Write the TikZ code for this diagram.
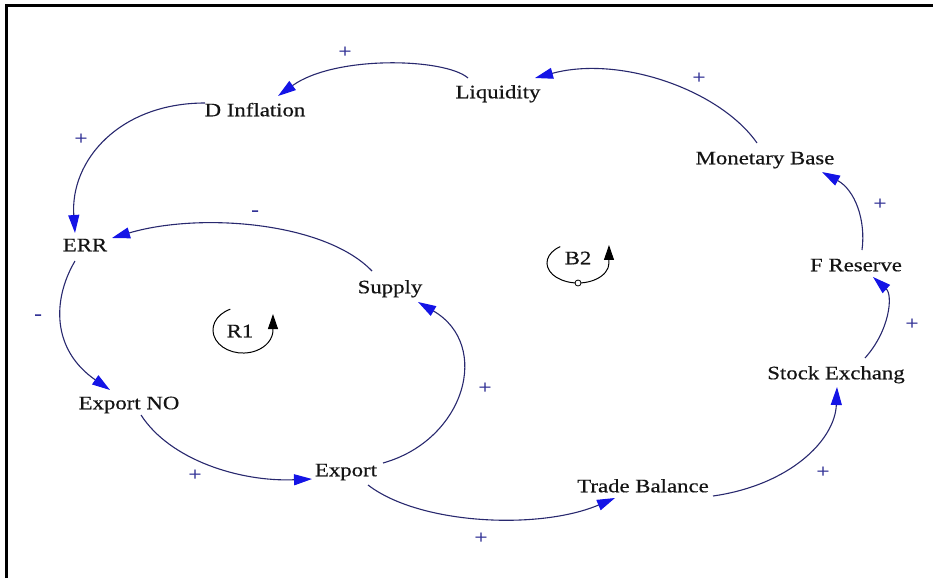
\documentclass[tikz,border=0pt]{standalone}
\usepackage{fontspec}
\setmainfont{Liberation Serif}[FakeStretch=1.2,FakeBold=0.5]
\usetikzlibrary{arrows.meta}
\definecolor{linkc}{RGB}{40,40,110}
\definecolor{arrc}{RGB}{20,20,230}
\definecolor{polc}{RGB}{50,50,150}
\definecolor{txt}{RGB}{20,20,20}
\tikzset{
  var/.style={inner sep=0pt, text height=12.5pt, text depth=0pt, font=\fontsize{19}{19}\selectfont, text=txt},
  link/.style={draw=linkc, line width=1.1pt, -{Triangle[length=18pt,width=11pt,color=arrc]}},
  pol/.style={inner sep=0pt, font=\fontsize{19}{19}\selectfont, text=polc},
  loopar/.style={draw=black, line width=1pt, -{Triangle[length=15pt,width=10pt]}}
}
\begin{document}
\begin{tikzpicture}[x=1pt,y=-1pt]
\useasboundingbox (0,0) rectangle (933,578);
\draw[line width=3pt] (6,578) -- (6,6) -- (933,6);
% variables
\node[var] (liq) at (498,92) {Liquidity};
\node[var] (dinf) at (255,110) {D Inflation};
\node[var] (mb) at (765,158) {Monetary Base};
\node[var] (fres) at (856,265) {F Reserve};
\node[var] (sex) at (836,373) {Stock Exchang};
\node[var] (tb) at (643,486) {Trade Balance};
\node[var] (exp) at (346,470) {Export};
\node[var] (expno) at (129,403) {Export NO};
\node[var] (err) at (85,245) {ERR};
\node[var] (sup) at (390,287) {Supply};
% links
\draw[link] ([shift={(-30,-14)}]liq.center) .. controls +(-23,-20) and +(57,-41) .. ([shift={(23,-14)}]dinf.center);
\draw[link] ([shift={(-8,-15)}]mb.center) .. controls +(-37,-53) and +(85,-23) .. ([shift={(37,-14)}]liq.center);
\draw[link] ([shift={(-50,-7)}]dinf.center) .. controls +(-85,0) and +(-5,-73) .. ([shift={(-10,-12)}]err.center);
\draw[link] ([shift={(-18,-16)}]sup.center) .. controls +(-47,-49) and +(88,-26) .. ([shift={(27,-7)}]err.center);
\draw[link] ([shift={(-10,16)}]err.center) .. controls +(-23,39) and +(-58,-40) .. ([shift={(-19,-13)}]expno.center);
\draw[link] ([shift={(12,12)}]expno.center) .. controls +(29,45) and +(-72,3) .. ([shift={(-34,9)}]exp.center);
\draw[link] ([shift={(37,-7)}]exp.center) .. controls +(82,-23) and +(74,43) .. ([shift={(28,15)}]sup.center);
\draw[link] ([shift={(22,15)}]exp.center) .. controls +(52,40) and +(-75,32) .. ([shift={(-28,12)}]tb.center);
\draw[link] ([shift={(70,10)}]tb.center) .. controls +(77,-11) and +(-2,53) .. ([shift={(1,14)}]sex.center);
\draw[link] ([shift={(29,-15)}]sex.center) .. controls +(25,-28) and +(20,18) .. ([shift={(17,12)}]fres.center);
\draw[link] ([shift={(6,-15)}]fres.center) .. controls +(4,-30) and +(33,18) .. ([shift={(57,14)}]mb.center);
% polarities
\node[pol] (p1) at (345,52) {+};
\node[pol] (p2) at (699,78) {+};
\node[pol] (p3) at (81,139) {+};
\node[pol] (p4) at (255,213) {-};
\node[pol] (p5) at (38,317) {-};
\node[pol] (p6) at (195,475) {+};
\node[pol] (p7) at (485,388) {+};
\node[pol] (p8) at (481,538) {+};
\node[pol] (p9) at (823,472) {+};
\node[pol] (p10) at (912,324) {+};
\node[pol] (p11) at (880,204) {+};
% loop markers
\node[var] (r1) at (240,331) {R1};
\draw[loopar] ([shift={(-9.7,-21.8)}]r1.center) arc[start angle=-115, end angle=-360, x radius=30, y radius=23] -- ++(0,-16);
\node[var] (b2) at (578,258) {B2};
\draw[loopar] ([shift={(-17.8,-11.4)}]b2.center) arc[start angle=-125, end angle=-360, x radius=31, y radius=20] -- ++(0,-18);
\draw[line width=0.8pt, fill=white] ([shift={(0,25)}]b2.center) circle[radius=3];
\end{tikzpicture}
\end{document}
